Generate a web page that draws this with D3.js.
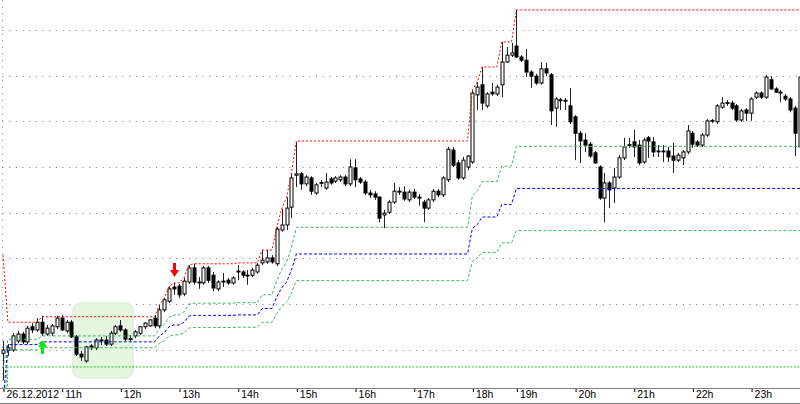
<!DOCTYPE html>
<html>
<head>
<meta charset="utf-8">
<script src="https://cdn.jsdelivr.net/npm/d3@7"></script>
<style>
body { margin: 0; background: #fff; }
svg { display: block; }
text { font-family: "Liberation Sans", Arial, sans-serif; }
</style>
</head>
<body>
<svg id="chart" width="800" height="404"></svg>
<script>
// 5 minute bars, prices in pips above an arbitrary base
var hourIdx = [0, 12, 24, 36, 48, 60, 72, 84, 96, 105, 117, 129, 141, 153];
var hourLabels = ['26.12.2012', '11h', '12h', '13h', '14h', '15h', '16h', '17h', '18h', '19h', '20h', '21h', '22h', '23h'];

var open = [
	-0.8, -0.1, -0.1, 1.9, 3.4, 1.7, 5.0, 4.3, 6.0, 3.4, 3.6, 5.0, 6.9, 4.1, 6.0, 2.8, -1.0, -2.5, 0.8, 0.4,
	1.9, 2.1, 1.2, 3.6, 5.2, 4.3, 2.3, 3.0, 3.6, 5.0, 5.2, 6.9, 5.2, 8.7, 10.6, 13.7, 13.9, 12.2, 14.8, 17.9,
	14.8, 14.6, 17.9, 16.3, 13.3, 14.8, 15.2, 14.6, 17.0, 17.0, 16.3, 16.3, 17.0, 19.0, 19.2, 20.1, 18.8, 26.2, 27.3, 31.2,
	38.2, 38.5, 36.3, 37.6, 34.3, 36.5, 35.4, 37.4, 36.9, 37.2, 37.8, 36.3, 39.8, 37.4, 36.7, 34.3, 34.1, 33.4, 29.5, 30.1,
	32.3, 34.5, 34.5, 32.8, 34.5, 33.4, 32.3, 31.0, 32.8, 34.7, 33.9, 37.2, 43.7, 40.9, 37.6, 40.0, 41.1, 55.8, 58.0, 53.4,
	56.4, 56.0, 58.0, 63.0, 64.5, 66.5, 64.1, 63.4, 60.8, 59.9, 58.4, 61.5, 60.2, 52.9, 54.7, 54.6, 53.4, 51.0, 47.4, 45.9,
	45.0, 43.1, 40.0, 33.2, 36.5, 35.4, 37.8, 42.0, 44.8, 45.5, 44.8, 41.1, 46.4, 45.5, 43.5, 43.5, 43.5, 42.4, 41.5, 42.0,
	43.3, 47.4, 45.5, 44.8, 47.0, 50.1, 49.9, 53.1, 54.0, 54.0, 53.4, 50.3, 52.5, 51.8, 55.3, 56.2, 55.3, 59.1, 57.1, 56.4,
	55.5, 54.9, 52.9, 44.4
];
var high = [
	1.9, 1.2, 3.6, 4.1, 3.9, 5.2, 5.8, 6.9, 7.4, 5.4, 5.6, 7.4, 7.6, 6.5, 6.5, 3.2, -0.3, 0.8, 1.2, 2.5,
	2.8, 3.0, 4.1, 5.4, 6.5, 4.7, 3.2, 4.3, 5.2, 6.0, 6.7, 7.6, 9.8, 11.3, 13.9, 14.6, 14.4, 15.7, 18.5, 18.8,
	15.9, 18.3, 18.3, 17.0, 15.2, 16.8, 15.7, 16.1, 18.5, 17.4, 17.4, 17.9, 19.0, 21.8, 21.8, 20.7, 26.9, 30.8, 33.4, 38.7,
	45.5, 38.9, 38.2, 38.0, 36.5, 37.2, 38.7, 37.8, 38.0, 38.2, 38.2, 41.7, 41.7, 37.8, 37.2, 35.0, 34.7, 33.6, 30.6, 32.8,
	36.5, 35.6, 35.8, 35.0, 35.2, 34.1, 32.8, 33.2, 35.2, 35.2, 38.0, 44.4, 44.4, 41.5, 42.2, 42.6, 56.9, 58.6, 61.9, 56.4,
	58.4, 58.0, 67.4, 66.3, 67.2, 74.4, 64.5, 65.8, 61.2, 60.4, 63.0, 62.8, 60.6, 55.3, 55.1, 55.1, 57.3, 51.4, 47.9, 47.4,
	45.5, 43.5, 40.4, 38.7, 36.9, 39.8, 42.6, 46.4, 46.4, 48.1, 45.9, 46.4, 46.8, 46.6, 44.8, 44.8, 44.4, 45.3, 43.1, 43.7,
	49.2, 47.9, 45.9, 47.4, 50.5, 50.5, 53.8, 55.3, 54.7, 54.5, 53.8, 52.7, 52.9, 55.3, 56.6, 56.6, 60.2, 59.9, 57.5, 56.9,
	56.0, 55.3, 53.4, 60.2
];
var low = [
	-6.7, -1.4, -0.5, 1.4, 1.2, 1.2, 3.6, 3.9, 3.0, 3.0, 3.0, 4.5, 4.1, 3.6, 2.5, -1.4, -2.5, -2.9, -0.1, -0.1,
	1.0, 0.8, 0.8, 3.2, 3.9, 1.9, 1.9, 2.5, 3.2, 4.5, 5.0, 4.7, 4.7, 8.2, 10.2, 12.0, 11.3, 11.7, 14.4, 14.2,
	13.3, 14.2, 14.6, 12.8, 12.8, 13.7, 14.2, 14.2, 15.2, 15.7, 14.2, 15.9, 16.6, 18.5, 18.8, 18.8, 18.3, 25.8, 26.2, 28.8,
	35.6, 35.0, 35.8, 33.9, 33.9, 35.6, 35.0, 36.1, 36.5, 36.7, 35.8, 35.8, 35.6, 36.3, 33.9, 33.2, 32.8, 27.9, 26.6, 29.7,
	31.9, 33.9, 32.6, 32.3, 33.0, 31.5, 27.9, 30.6, 32.3, 33.4, 33.4, 36.7, 40.0, 37.2, 37.2, 39.3, 40.7, 52.5, 52.5, 52.9,
	55.6, 55.6, 55.3, 62.8, 64.1, 63.9, 63.0, 59.7, 57.3, 58.0, 58.0, 59.9, 49.2, 48.8, 52.5, 52.5, 49.4, 41.5, 40.9, 43.3,
	42.0, 40.7, 32.8, 27.9, 31.0, 32.1, 37.4, 41.5, 44.2, 42.2, 40.4, 40.7, 42.0, 42.2, 42.2, 41.1, 41.1, 38.7, 41.1, 40.4,
	42.8, 44.2, 44.4, 44.4, 46.6, 49.6, 49.4, 52.7, 53.4, 52.5, 49.9, 49.9, 50.1, 50.1, 54.9, 54.9, 54.9, 56.9, 56.2, 54.2,
	54.5, 52.0, 42.4, 43.7
];
var close = [
	-0.1, 0.4, 3.0, 3.4, 1.7, 4.7, 4.3, 6.0, 3.6, 4.7, 5.2, 6.9, 4.3, 6.0, 2.8, -1.0, -1.6, 0.6, 0.4, 2.1,
	2.1, 1.2, 3.6, 5.0, 4.3, 2.3, 2.4, 3.9, 5.0, 5.8, 6.5, 5.2, 8.7, 10.9, 13.3, 13.3, 12.0, 15.0, 17.9, 14.8,
	14.6, 17.9, 15.2, 13.5, 14.8, 15.0, 14.6, 15.7, 17.2, 16.3, 16.2, 17.4, 18.5, 19.6, 20.1, 19.2, 26.4, 27.3, 31.0, 37.6,
	38.5, 36.3, 37.8, 34.7, 36.1, 36.6, 36.7, 36.5, 37.6, 37.8, 36.3, 40.0, 37.2, 36.7, 34.3, 33.9, 33.4, 28.8, 29.9, 32.3,
	34.7, 34.7, 33.0, 34.5, 33.4, 33.2, 31.0, 32.8, 34.7, 33.9, 37.6, 43.9, 40.4, 37.6, 41.5, 42.4, 56.2, 57.5, 54.0, 56.0,
	56.0, 57.5, 63.0, 64.5, 65.0, 64.1, 63.4, 60.8, 59.9, 58.4, 61.5, 60.6, 52.3, 54.9, 54.6, 54.5, 49.9, 47.4, 45.7, 44.8,
	42.4, 40.9, 33.2, 36.5, 35.0, 37.8, 42.0, 44.4, 44.9, 44.4, 40.9, 45.9, 45.7, 43.3, 43.4, 43.5, 42.2, 41.5, 42.6, 43.3,
	47.9, 45.0, 44.8, 47.0, 50.1, 50.2, 53.4, 54.0, 54.1, 52.9, 50.3, 52.3, 51.8, 54.9, 56.2, 55.3, 59.7, 57.1, 56.4, 56.2,
	54.9, 52.5, 47.4, 59.7
];

// channel: [first bar, value]
var upperSteps = [[0, 20.7], [1, 6.0], [8, 7.2], [32, 9.8], [33, 11.3], [34, 13.9], [35, 14.6], [37, 15.7], [38, 18.5],
	[39, 18.8], [48, 19.0], [53, 21.8], [56, 26.9], [57, 30.8], [58, 33.4], [59, 38.7], [60, 45.7], [96, 56.9],
	[97, 58.6], [98, 61.9], [102, 67.4], [105, 74.4]];
var lowerSteps = [[0, -44.0], [1, -3.8]];
var fibLevels = [0.382, 0.5, 0.618];
var gridValues = [0, 10, 20, 30, 40, 50, 60, 70];

var buyBar = 8;
var sellBar = 35;
var zoneBars = [14.3, 26.6];
var zonePrices = [-6.2, 10.2];

var svg = d3.select('#chart');
var plotBottom = 388;

var x = d3.scaleLinear().domain([0, 163]).range([3, 800]);
var y = d3.scaleLinear().domain([0, 70]).range([349.6, 30.05]);

function expand(steps, n) {
	var out = [];
	var k = 0;
	for (var i = 0; i < n; i++) {
		while (k + 1 < steps.length && steps[k + 1][0] <= i) {
			k++;
		}
		out.push(steps[k][1]);
	}
	return out;
}

var n = open.length;
var upper = expand(upperSteps, n);
var lower = expand(lowerSteps, n);

svg.append('defs').append('clipPath').attr('id', 'plot')
	.append('rect').attr('x', 0).attr('y', 0).attr('width', 800).attr('height', plotBottom);

var g = svg.append('g').attr('clip-path', 'url(#plot)');

// grid
g.selectAll('line.grid')
	.data(gridValues)
	.enter().append('line')
	.attr('class', 'grid')
	.attr('x1', 0).attr('x2', 800)
	.attr('y1', function (d) { return Math.round(y(d)) + 0.5; })
	.attr('y2', function (d) { return Math.round(y(d)) + 0.5; })
	.attr('stroke', '#777')
	.attr('stroke-dasharray', '1,5.67')
	.attr('stroke-dashoffset', -2.5);

g.append('line')
	.attr('x1', 2.5).attr('x2', 2.5)
	.attr('y1', 0).attr('y2', plotBottom)
	.attr('stroke', '#888')
	.attr('stroke-dasharray', '1,5.67');

// highlighted zone
g.append('rect')
	.attr('x', x(zoneBars[0]))
	.attr('y', y(zonePrices[1]))
	.attr('width', x(zoneBars[1]) - x(zoneBars[0]))
	.attr('height', y(zonePrices[0]) - y(zonePrices[1]))
	.attr('rx', 8).attr('ry', 8)
	.attr('fill', '#e6f7e0')
	.attr('stroke', '#dcefd5')
	.attr('stroke-width', 1.5);

// candles
var bars = g.selectAll('g.bar')
	.data(d3.range(n))
	.enter().append('g')
	.attr('class', 'bar');

bars.append('line')
	.attr('x1', function (i) { return Math.round(x(i)) + 0.5; })
	.attr('x2', function (i) { return Math.round(x(i)) + 0.5; })
	.attr('y1', function (i) { return y(high[i]); })
	.attr('y2', function (i) { return y(low[i]); })
	.attr('stroke', '#222');

bars.append('rect')
	.attr('x', function (i) { return Math.round(x(i)) - 1; })
	.attr('y', function (i) { return y(Math.max(open[i], close[i])); })
	.attr('width', 3)
	.attr('height', function (i) { return Math.max(0.8, Math.abs(y(open[i]) - y(close[i]))); })
	.attr('fill', function (i) { return close[i] >= open[i] ? '#fff' : '#000'; })
	.attr('stroke', '#000')
	.attr('stroke-width', 1);

// channel lines
var line = d3.line()
	.x(function (d, i) { return x(i); })
	.y(function (d) { return y(d); });

function level(r) {
	return upper.map(function (u, i) { return lower[i] + r * (u - lower[i]); });
}

g.append('path')
	.datum(lower)
	.attr('d', line)
	.attr('fill', 'none')
	.attr('stroke', '#22c022')
	.attr('stroke-dasharray', '2,1.5');

fibLevels.forEach(function (r) {
	g.append('path')
		.datum(level(r))
		.attr('d', line)
		.attr('fill', 'none')
		.attr('stroke', r === 0.5 ? '#0000ff' : '#3cb371')
		.attr('stroke-dasharray', '3,2');
});

g.append('path')
	.datum(upper)
	.attr('d', line)
	.attr('fill', 'none')
	.attr('stroke', '#ff0000')
	.attr('stroke-dasharray', '2,2');

// signal arrows
function arrow(cx, tip, dir) {
	var s = dir;
	return 'M' + (cx - 1.5) + ',' + (tip - 14 * s) +
		'L' + (cx + 1.5) + ',' + (tip - 14 * s) +
		'L' + (cx + 1.5) + ',' + (tip - 7 * s) +
		'L' + (cx + 4.5) + ',' + (tip - 7 * s) +
		'L' + cx + ',' + tip +
		'L' + (cx - 4.5) + ',' + (tip - 7 * s) +
		'L' + (cx - 1.5) + ',' + (tip - 7 * s) + 'Z';
}

g.append('path')
	.attr('d', arrow(Math.round(x(sellBar)) + 0.5, y(high[sellBar]) - 6, 1))
	.attr('fill', '#ff0000');

g.append('path')
	.attr('d', arrow(Math.round(x(buyBar)) + 0.5, y(low[buyBar]) + 4, -1))
	.attr('fill', '#00ee00');

// time axis
var axisG = svg.append('g')
	.attr('transform', 'translate(0,' + plotBottom + ')')
	.call(d3.axisBottom(x)
		.tickValues(hourIdx)
		.tickFormat(function (d, i) { return hourLabels[i]; })
		.tickSize(4));

axisG.select('.domain').remove();
axisG.selectAll('.tick line').attr('stroke', '#000').attr('transform', 'translate(0.5,0)');
axisG.selectAll('.tick text')
	.attr('text-anchor', 'start')
	.attr('x', 3)
	.attr('y', 3)
	.attr('fill', '#000')
	.style('font-size', '10.5px');

svg.append('line')
	.attr('x1', 0).attr('x2', 800)
	.attr('y1', plotBottom + 0.5).attr('y2', plotBottom + 0.5)
	.attr('stroke', '#808080');

svg.append('line')
	.attr('x1', 0).attr('x2', 800)
	.attr('y1', 403.5).attr('y2', 403.5)
	.attr('stroke', '#808080');
</script>
</body>
</html>
